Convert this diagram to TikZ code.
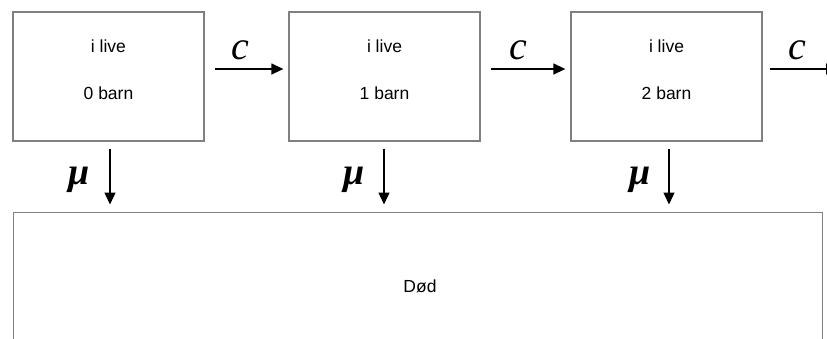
\documentclass[tikz,border=0pt]{standalone}
\usepackage{fontspec}
\setmainfont{Liberation Sans}
\newfontfamily\tms{Liberation Serif}
\usetikzlibrary{arrows.meta,calc}
\begin{document}
\begin{tikzpicture}[x=1pt,y=-1pt,
  box/.style={draw=black!50,line width=1.3pt,minimum width=191pt,minimum height=129pt,inner sep=0pt},
  lbl/.style={font=\fontsize{17.5}{19}\selectfont,inner sep=0pt},
  rate/.style={font=\tms\itshape\fontsize{40}{42}\selectfont,inner sep=0pt},
  mu/.style={font=\tms\bfseries\itshape\fontsize{38}{40}\selectfont,inner sep=0pt},
  arr/.style={line width=1.4pt,-{Triangle[length=12pt,width=11pt]}}]
\useasboundingbox (0,0) rectangle (827,338);
\clip (0,0) rectangle (827,338);
\node[box] (b1) at (108.5,76.5) {};
\node[box] (b2) at (384.5,76.5) {};
\node[box] (b3) at (666.5,76.5) {};
\node[draw=black!50,line width=1.3pt,minimum width=809pt,minimum height=160pt,inner sep=0pt,anchor=north west] (d) at (13,211.5) {};
\node[lbl] (t1a) at (108.5,46) {i live};
\node[lbl] (t1b) at (108.5,93) {0 barn};
\node[lbl] (t2a) at (384.5,46) {i live};
\node[lbl] (t2b) at (384.5,93) {1 barn};
\node[lbl] (t3a) at (666.5,46) {i live};
\node[lbl] (t3b) at (666.5,93) {2 barn};
\node[lbl] (td) at (420,286) {Død};
\coordinate (out) at (838,69);
\draw[arr] ([shift={(10,-7.5)}]b1.east) -- ([shift={(-5,-7.5)}]b2.west);
\draw[arr] ([shift={(10,-7.5)}]b2.east) -- ([shift={(-5,-7.5)}]b3.west);
\draw[arr] ([shift={(7,-7.5)}]b3.east) -- (out);
\node[rate] (c1) at (240,50) {c};
\node[rate] (c2) at (518,50) {c};
\node[rate] (c3) at (797,50) {c};
\draw[arr] ([shift={(1.5,7)}]b1.south) -- ($(b1.south |- d.north)+(1.5,-7)$);
\draw[arr] ([shift={(-0.5,7)}]b2.south) -- ($(b2.south |- d.north)+(-0.5,-7)$);
\draw[arr] ([shift={(2.5,7)}]b3.south) -- ($(b3.south |- d.north)+(2.5,-7)$);
\node[mu] (m1) at (79,180) {μ};
\node[mu] (m2) at (354,180) {μ};
\node[mu] (m3) at (640,180) {μ};
\end{tikzpicture}
\end{document}
